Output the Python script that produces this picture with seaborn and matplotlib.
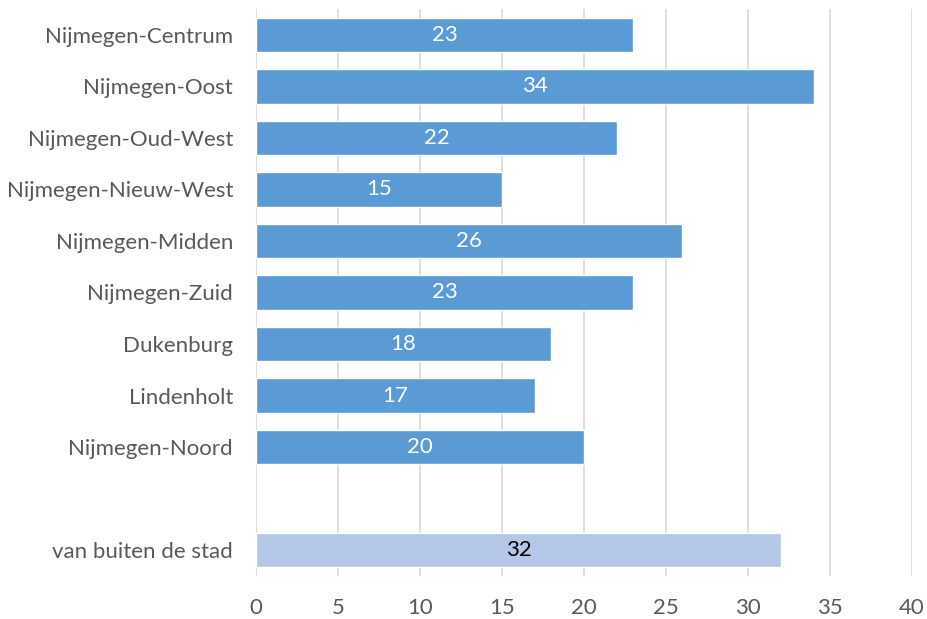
import matplotlib
matplotlib.use("Agg")
import matplotlib.pyplot as plt
import seaborn as sns
import pandas as pd
import numpy as np

categories = ["Nijmegen-Centrum", "Nijmegen-Oost", "Nijmegen-Oud-West", "Nijmegen-Nieuw-West",
              "Nijmegen-Midden", "Nijmegen-Zuid", "Dukenburg", "Lindenholt", "Nijmegen-Noord",
              " ", "van buiten de stad"]
values = [23, 34, 22, 15, 26, 23, 18, 17, 20, np.nan, 32]
groups = ["stad"] * 9 + ["stad", "buiten"]
x_ticks = [0, 5, 10, 15, 20, 25, 30, 35, 40]

sns.set_theme(style="white")
plt.rcParams['font.family'] = ['Lato', 'DejaVu Sans']

df = pd.DataFrame({"cat": categories, "val": values, "grp": groups})

fig = plt.figure(figsize=(9.27, 6.19), dpi=100)
ax = fig.add_axes([256/927, 43/619, (912-256)/927, (610-43)/619])

sns.barplot(data=df, y="cat", x="val", hue="grp", order=categories,
            palette={"stad": "#5B9BD5", "buiten": "#B4C7E7"},
            width=0.67, dodge=False, legend=False, ax=ax, saturation=1)

ax.set_xlim(0, 40)
ax.set_xticks(x_ticks)
ax.xaxis.grid(True, color="#D9D9D9", linewidth=1.2)
ax.set_axisbelow(True)
for s in ax.spines.values():
    s.set_visible(False)
ax.set_xlabel("")
ax.set_ylabel("")
ax.tick_params(axis="both", length=0, labelsize=16, colors="#595959")
ax.tick_params(axis="y", pad=16.5)
ax.tick_params(axis="x", pad=16)

for i, v in enumerate(values):
    if np.isnan(v):
        continue
    color = "black" if groups[i] == "buiten" else "white"
    ax.text(v / 2, i, f"{int(v)}", ha="center", va="center", color=color, fontsize=16)

fig.savefig("out.png", dpi=100)
